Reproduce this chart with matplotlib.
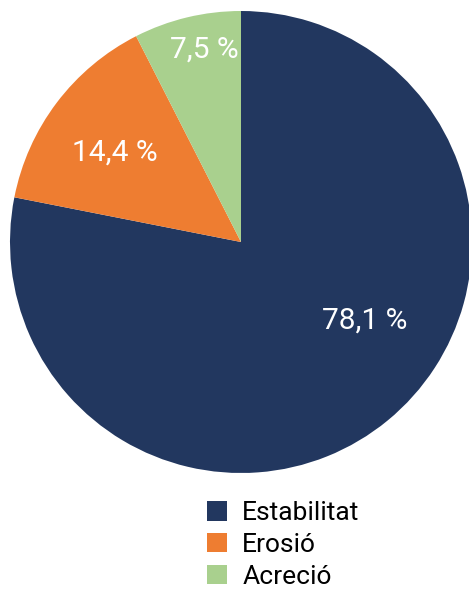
import matplotlib
matplotlib.use('Agg')
import matplotlib.pyplot as plt

plt.rcParams['font.family'] = ['Roboto', 'DejaVu Sans']

categories = ['Estabilitat', 'Erosió', 'Acreció']
values = [78.1, 14.4, 7.5]
colors = ['#22375f', '#ee7d31', '#a9d08e']

W, H = 469, 593
fig = plt.figure(figsize=(W / 100, H / 100), dpi=100)

# pie centre (241, 242) px from top-left, radius 231 px
cx, cy, r = 241, 242, 231
ax = fig.add_axes([(cx - r) / W, (H - cy - r) / H, 2 * r / W, 2 * r / H])

wedges, texts = ax.pie(values, colors=colors, startangle=90, counterclock=False,
                       radius=1, wedgeprops=dict(linewidth=0))
ax.set_xlim(-1, 1)
ax.set_ylim(-1, 1)
ax.set_aspect('equal')
ax.axis('off')

# label positions inside each slice
label_pos = [(0.537, -0.34), (-0.545, 0.385), (-0.16, 0.835)]
for v, (x, y) in zip(values, label_pos):
    ax.text(x, y, f'{v:.1f} %'.replace('.', ','), color='white', fontsize=21.5,
            ha='center', va='center')

fig.legend(wedges, categories, loc='upper left', bbox_to_anchor=(207 / W, 1 - 501 / H),
           frameon=False, fontsize=19, handlelength=0.76, handleheight=0.76,
           handletextpad=0.57, labelspacing=0.3, borderpad=0, borderaxespad=0)

fig.savefig('out.png', dpi=100)
